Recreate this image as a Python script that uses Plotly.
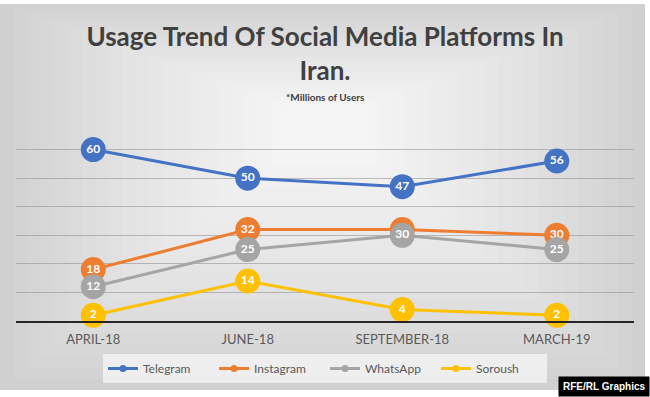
import plotly.graph_objects as go

categories = ["APRIL-18", "JUNE-18", "SEPTEMBER-18", "MARCH-19"]
telegram = [60, 50, 47, 56]
instagram = [18, 32, 32, 30]
whatsapp = [12, 25, 30, 25]
soroush = [2, 14, 4, 2]

series_names = ["Telegram", "Instagram", "WhatsApp", "Soroush"]
series_values = [telegram, instagram, whatsapp, soroush]
series_colors = ["#4472C4", "#ED7D31", "#A5A5A5", "#FFC000"]

W, H = 650, 397
ML, MR, MT, MB = 16, 16, 121, 76
PW, PH = W - ML - MR, H - MT - MB


def px(x):
    return (x - ML) / PW


def py(y):
    return (H - MB - y) / PH


fig = go.Figure()

# main series
for name, vals, col in zip(series_names, series_values, series_colors):
    fig.add_trace(go.Scatter(
        x=categories, y=vals, mode="lines+markers+text", name=name,
        line=dict(color=col, width=3),
        marker=dict(color=col, size=25),
        text=[str(v) for v in vals], textposition="middle center",
        textfont=dict(color="white", size=12, family="Lato", weight="bold"),
        showlegend=False, cliponaxis=False,
    ))

# legend entries
for name, col in zip(series_names, series_colors):
    fig.add_trace(go.Scatter(
        x=[None], y=[None], mode="lines+markers", name=name,
        line=dict(color=col, width=3), marker=dict(color=col, size=7),
    ))

# background gradient (chart area)
shapes = []
N = 22
c0, c1 = 0xD0, 0xF7
cx, cy = 325, 120
for i in range(N):
    t = i / N
    x0 = 0 + t * (cx - 0) * 0.92
    x1 = 645 - t * (645 - cx) * 0.92
    y0 = 4 + t * (cy - 4) * 0.92
    y1 = 390 - t * (390 - cy) * 0.92
    c = int(c0 + (c1 - c0) * (t ** 0.8))
    shapes.append(dict(
        type="rect", xref="paper", yref="paper", layer="below",
        x0=px(x0), x1=px(x1), y0=py(y1), y1=py(y0),
        fillcolor=f"rgb({c},{c},{c})", line=dict(width=0),
    ))

fig.update_layout(
    width=W, height=H,
    margin=dict(l=ML, r=MR, t=MT, b=MB, autoexpand=False),
    paper_bgcolor="white",
    plot_bgcolor="rgba(0,0,0,0)",
    shapes=shapes,
    font=dict(family="Lato", color="#595959"),
    title=dict(
        text="<b>Usage Trend Of Social Media Platforms In<br>Iran.</b>",
        x=0.5, xanchor="center", y=1 - 46 / H, yanchor="middle",
        font=dict(size=26, color="#404040", family="Lato"),
    ),
    xaxis=dict(
        showgrid=False, showline=True, linecolor="#262626", linewidth=2,
        tickfont=dict(size=13, color="#595959", family="Lato"),
        ticklabelstandoff=5, range=[-0.5, 3.5], fixedrange=True,
    ),
    yaxis=dict(
        range=[0, 70], dtick=10, showticklabels=False,
        gridcolor="rgba(140,140,140,0.55)", gridwidth=1,
        zeroline=False, showline=False,
    ),
    legend=dict(
        orientation="h", x=0.5, xanchor="center", y=py(354), yanchor="top",
        bgcolor="rgba(242,242,242,0.85)",
        font=dict(size=12, color="#595959", family="Lato"),
        entrywidth=66, entrywidthmode="pixels",
    ),
    annotations=[
        dict(text="<b>*Millions of Users</b>", xref="paper", yref="paper",
             x=px(325), y=py(97), yanchor="middle", showarrow=False,
             font=dict(size=10, color="#404040", family="Lato")),
        dict(text="<b>RFE/RL Graphics</b>", xref="paper", yref="paper",
             x=px(650), y=py(397), xanchor="right", yanchor="bottom",
             showarrow=False, bgcolor="black", borderpad=4,
             font=dict(size=10, color="white", family="Liberation Sans")),
    ],
)

fig.write_html(
    "out.html",
    config={"displayModeBar": False},
    post_script="document.body.style.margin='0';document.body.style.overflow='hidden';",
)
